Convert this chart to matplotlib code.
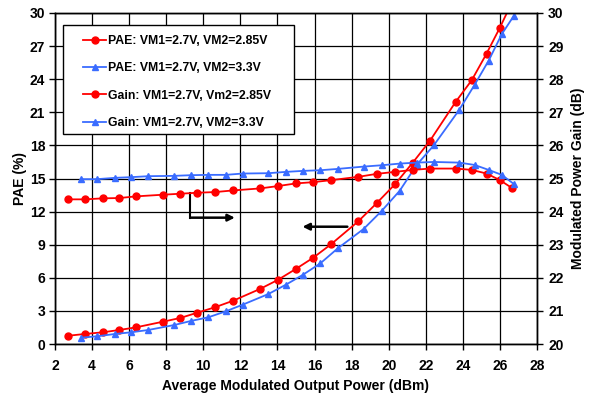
import matplotlib
matplotlib.use("Agg")
import matplotlib.pyplot as plt
from matplotlib.patches import Rectangle
import numpy as np

plt.rcParams['font.family'] = ['Liberation Sans', 'DejaVu Sans']
plt.rcParams['font.weight'] = 'bold'

# Data
x_285 = [2.72, 3.62, 4.57, 5.47, 6.37, 7.82, 8.76, 9.68, 10.63, 11.62, 13.06, 14.01,
         14.98, 15.93, 16.89, 18.36, 19.35, 20.34, 21.30, 22.23, 23.61, 24.48, 25.28, 26.00, 26.63]
pae_285 = [0.75, 0.91, 1.06, 1.27, 1.51, 2.02, 2.36, 2.84, 3.33, 3.93, 4.99, 5.80,
           6.79, 7.82, 9.04, 11.12, 12.76, 14.48, 16.44, 18.43, 21.94, 23.91, 26.32, 28.68, 30.90]
gain_285 = [24.37, 24.37, 24.40, 24.41, 24.46, 24.51, 24.54, 24.57, 24.59, 24.64, 24.70, 24.77,
            24.85, 24.89, 24.95, 25.05, 25.14, 25.20, 25.26, 25.30, 25.30, 25.26, 25.15, 24.95, 24.72]

x_33 = [3.40, 4.28, 5.24, 6.10, 7.03, 8.43, 9.34, 10.27, 11.21, 12.12, 13.51, 14.46,
        15.38, 16.32, 17.26, 18.65, 19.62, 20.59, 21.51, 22.43, 23.80, 24.63, 25.39, 26.10, 26.76]
pae_33 = [0.57, 0.70, 0.91, 1.06, 1.27, 1.72, 2.09, 2.42, 2.96, 3.56, 4.53, 5.38,
          6.28, 7.32, 8.68, 10.43, 12.06, 13.88, 16.23, 18.00, 21.21, 23.48, 25.68, 28.08, 29.77]
gain_33 = [24.98, 24.98, 25.02, 25.04, 25.07, 25.08, 25.10, 25.11, 25.11, 25.15, 25.16, 25.20,
           25.23, 25.25, 25.29, 25.36, 25.40, 25.45, 25.48, 25.50, 25.48, 25.41, 25.26, 25.11, 24.83]

labels = ["PAE: VM1=2.7V, VM2=2.85V", "PAE: VM1=2.7V, VM2=3.3V",
          "Gain: VM1=2.7V, Vm2=2.85V", "Gain: VM1=2.7V, VM2=3.3V"]

x_ticks = list(range(2, 29, 2))
pae_ticks = list(range(0, 31, 3))
gain_ticks = list(range(20, 31, 1))

RED = '#ff0000'
BLUE = '#3a6cff'

fig = plt.figure(figsize=(5.9, 4.0), dpi=100)
ax = fig.add_axes([55/590, 1-344/400, (537-55)/590, (344-13)/400])
ax2 = ax.twinx()

ax.set_xlim(2, 28)
ax.set_ylim(0, 30)
ax2.set_ylim(20, 30)
ax.set_xticks(x_ticks)
ax.set_yticks(pae_ticks)
ax2.set_yticks(gain_ticks)

ax.grid(True, color='black', linewidth=0.9)
ax.set_axisbelow(True)

lw = 1.3
ms = 5.0
h1, = ax.plot(x_285, pae_285, color=RED, marker='o', lw=lw, ms=ms, clip_on=True)
h2, = ax.plot(x_33, pae_33, color=BLUE, marker='^', lw=lw, ms=ms, clip_on=True)
h3, = ax2.plot(x_285, gain_285, color=RED, marker='o', lw=lw, ms=ms)
h4, = ax2.plot(x_33, gain_33, color=BLUE, marker='^', lw=lw, ms=ms)

# Arrows
ax.plot([9.28, 9.28], [13.72, 11.45], color='black', lw=1.5)
ax.annotate('', xy=(11.85, 11.45), xytext=(9.2, 11.45),
            arrowprops=dict(arrowstyle='-|>', color='black', lw=1.8, mutation_scale=10))
ax.annotate('', xy=(15.2, 10.63), xytext=(17.92, 10.63),
            arrowprops=dict(arrowstyle='-|>', color='black', lw=1.8, mutation_scale=10))

for a in (ax, ax2):
    for s in a.spines.values():
        s.set_color('black')
        s.set_linewidth(1.0)
ax.tick_params(axis='x', direction='out', length=4, width=1, labelsize=10, colors='black', pad=7)
ax.tick_params(axis='y', direction='out', length=4, width=1, labelsize=10, colors='black', pad=3)
ax2.tick_params(axis='y', direction='out', length=4, width=1, labelsize=10, colors='black', pad=4)
for lab in ax.get_xticklabels() + ax.get_yticklabels() + ax2.get_yticklabels():
    lab.set_fontweight('bold')

ax.set_xlabel("Average Modulated Output Power (dBm)", fontsize=10, fontweight='bold', labelpad=4)
ax.set_ylabel("PAE (%)", fontsize=10, fontweight='bold', labelpad=2)
ax2.set_ylabel("Modulated Power Gain (dB)", fontsize=10, fontweight='bold', labelpad=5)

# Legend (frame drawn separately)
leg = ax2.legend([h1, h2, h3, h4], labels, loc='upper left',
                 bbox_to_anchor=(0.0581, 0.9336), prop={'weight': 'bold', 'size': 8.8},
                 frameon=False, borderpad=0, labelspacing=1.25,
                 handlelength=1.9, handletextpad=0.15, borderaxespad=0)
frame = Rectangle((0.0166, 0.6344), 0.4959 - 0.0166, 0.9637 - 0.6344,
                  transform=ax2.transAxes, facecolor='white', edgecolor='black',
                  linewidth=1.0, zorder=4)
ax2.add_patch(frame)
leg.set_zorder(5)

fig.savefig("out.png", dpi=100)
